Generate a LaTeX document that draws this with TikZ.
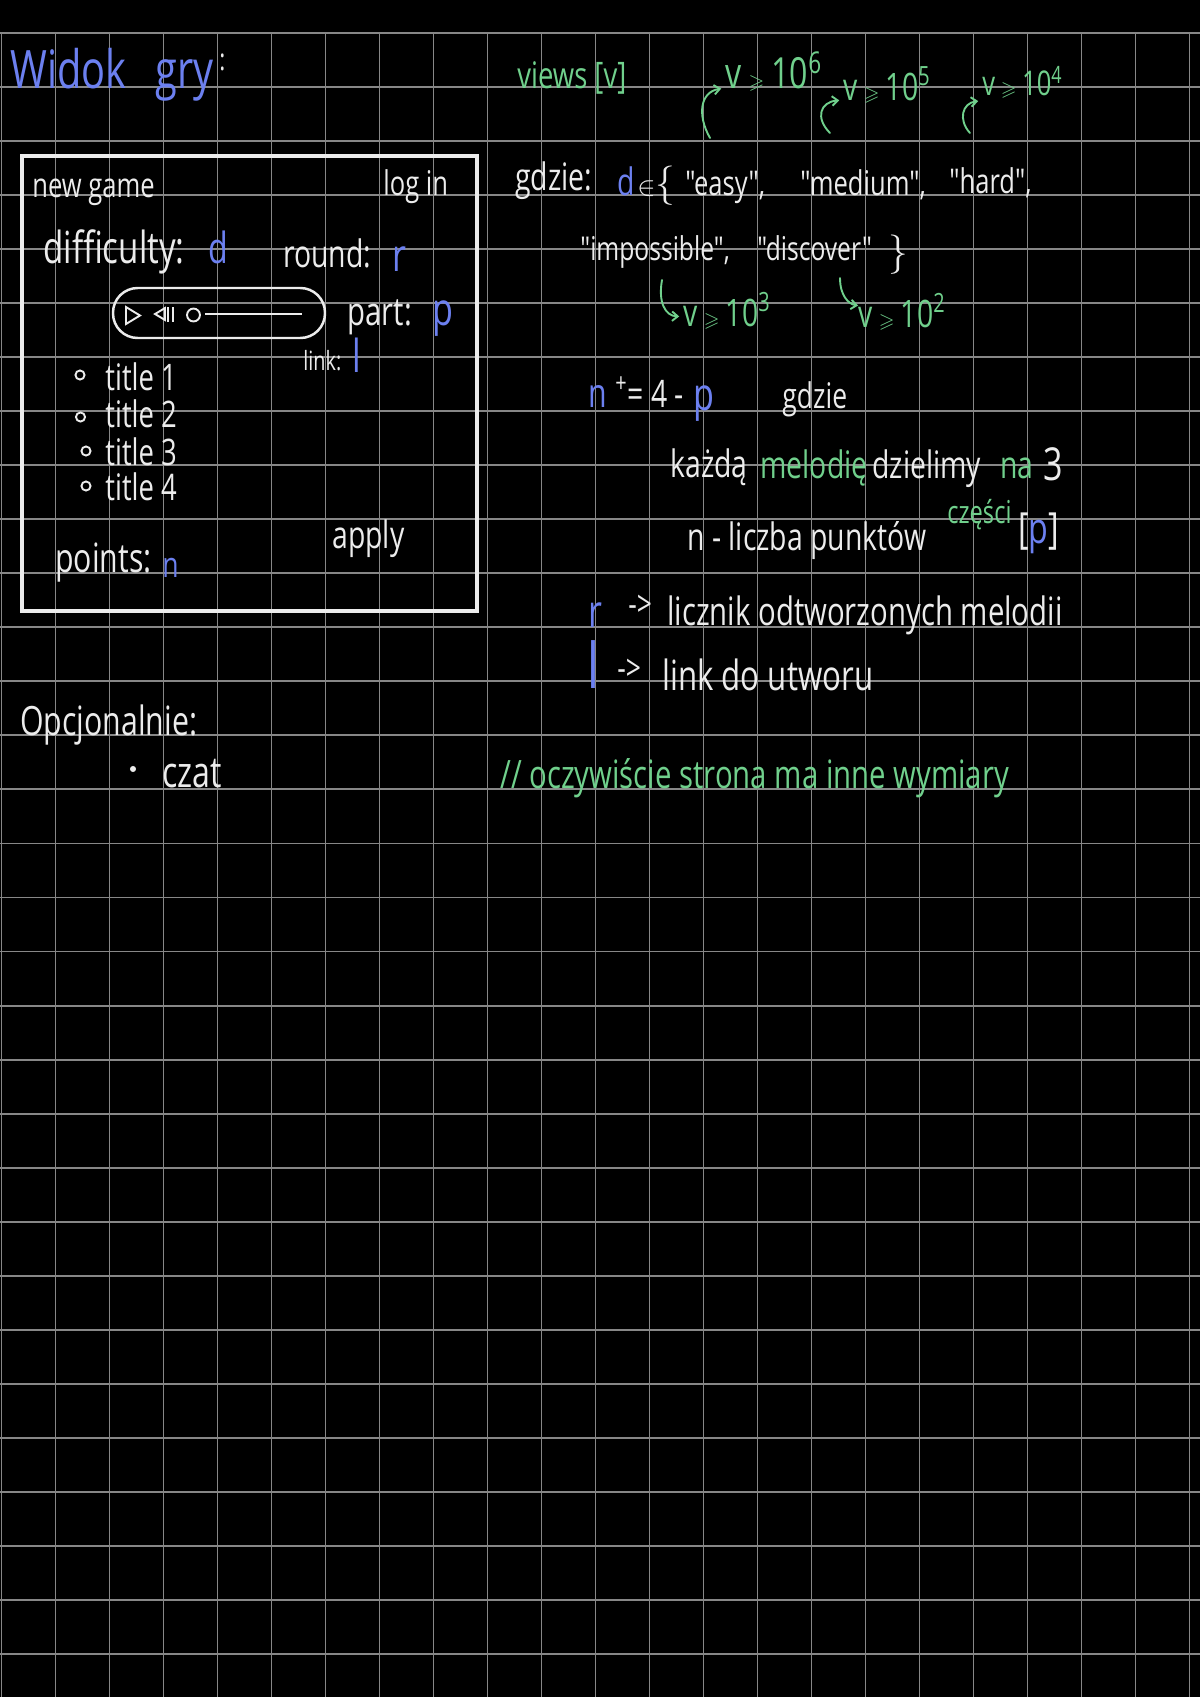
\documentclass[tikz,border=0pt]{standalone}
\usepackage{amssymb}
\usepackage{fontspec}
\setmainfont{Open Sans}[FakeStretch=0.75, Ligatures=TeXOff]
\usepackage{xcolor}
\usetikzlibrary{arrows.meta}
\definecolor{chalk}{RGB}{236,236,236}
\definecolor{penblue}{RGB}{108,128,240}
\definecolor{pengreen}{RGB}{112,208,140}
\definecolor{gridgray}{RGB}{135,135,135}
\newcommand{\sz}[1]{\fontsize{\fpeval{1.33*#1}}{\fpeval{1.33*#1}}\selectfont}
\newcommand{\vge}{{\sz{8}$\geqslant$}}

\begin{document}
\begin{tikzpicture}[x=0.0185185cm, y=-0.0185185cm,
  hw/.style={anchor=base west, inner sep=0pt, text=chalk, font=\sz{#1}},
  hw/.default=15,
  hb/.style={hw=#1, text=penblue}, hb/.default=16,
  hg/.style={hw=#1, text=pengreen}, hg/.default=15,
  garr/.style={pengreen, line width=1pt, line cap=round, -{Straight Barb[length=3pt,width=5pt]}, shorten >=2pt}]
\fill[black] (0,0) rectangle (1200,1697);
\useasboundingbox (0,0) rectangle (1200,1697);
\foreach \i in {0,...,22}
  \draw[gridgray, line width=1pt] ({1.5+54*\i},33) -- ({1.5+54*\i},1697);
\foreach \j in {0,...,30}
  \draw[gridgray, line width=1pt] (0,{33+54.03*\j}) -- (1200,{33+54.03*\j});

\node[hb=21] (widok) at (10,88) {Widok};
\node[hb=21] (gry) at (155,88) {gry};
\node[hw=12] (gryc) at (219,70) {:};

\draw[chalk, line width=1.6pt] (22,156) rectangle (477,611);
\node[hw=13.5] (newgame) at (32,197) {new game};
\node[hw=13.5] (login) at (383,195) {log in};
\node[hw=17.5] (diff) at (43,263) {difficulty:};
\node[hb=17] (dval) at (208,263) {d};
\node[hw=15] (round) at (283,267) {round:};
\node[hb=18] (rval) at (392,271) {r};

\draw[chalk, line width=1.3pt, rounded corners=13pt] (113,288) rectangle (325,338);
\draw[chalk, line width=1pt] (126,307) -- (140,315.5) -- (126,324) -- cycle;
\draw[chalk, line width=1pt] (165,308) -- (155,314) -- (165,320) -- cycle;
\draw[chalk, line width=1pt] (168,307) -- (168,322) (173,307) -- (173,322);
\draw[chalk, line width=1pt] (193.5,315) circle (3.4pt);
\draw[chalk, line width=1pt] (205,314) -- (302,314);

\node[hw=15.5] (part) at (347,325) {part:};
\node[hb=18] (pval) at (432,325) {p};
\node[hw=10.5] (link) at (303,370) {link:};
\node[hb=18] (lval) at (352,372) {l};

\foreach \ti/\bx/\by/\ty in {1/80/375/390, 2/80.5/417/427, 3/86/451/465, 4/86/486/500} {
  \draw[chalk, line width=1pt] (\bx,\by) circle (2.4pt);
  \node[hw=14.5] (title\ti) at (105,\ty) {title \ti};
}
\node[hw=16] (points) at (55,572) {points:};
\node[hb=14] (nval) at (162,577) {n};
\node[hw=15] (apply) at (332,548) {apply};

\node[hw=16] (opc) at (20,735) {Opcjonalnie:};
\fill[chalk] (133,769) circle (1.6pt);
\node[hw=17] (czat) at (162,787) {czat};

\node[hg=14.5] (views) at (517,88) {views [v]};
\node[hg=17] (v6) at (725,88) {v\,\vge\,10\textsuperscript{6}};
\node[hg=15] (v5) at (843,100) {v\,\vge\,10\textsuperscript{5}};
\node[hg=13.5] (v4) at (982,95) {v\,\vge\,10\textsuperscript{4}};
\coordinate (s6) at (710,138);
\coordinate (s5) at (830,133);
\coordinate (s4) at (970,133);
\draw[garr] (s6) .. controls (697,115) and (700,92) .. (v6.base west);
\draw[garr] (s5) .. controls (815,118) and (820,102) .. (v5.base west);
\draw[garr] (s4) .. controls (958,120) and (962,103) .. ([yshift=-3pt]v4.base west);

\node[hw=15] (gdzie1) at (515,190) {gdzie:};
\node[hb=15] (dset) at (617,195) {d};
\node[hw=17] (inset) at (637,195) {{\sz{10}${\in}$}$\{$};
\node[hw=13.5] (easy) at (685,195) {"easy",};
\node[hw=13.5] (medium) at (800,195) {"medium",};
\node[hw=13.5] (hard) at (949,193) {"hard",};
\node[hw=13] (imposs) at (580,260) {"impossible",};
\node[hw=13] (discover) at (757,260) {"discover"};
\node[hw=17] (closeset) at (888,264) {$\}$};

\node[hg=15] (v3) at (683,326) {v\,\vge\,10\textsuperscript{3}};
\node[hg=15] (v2) at (858,327) {v\,\vge\,10\textsuperscript{2}};
\coordinate (s3) at (662,280);
\coordinate (s2) at (840,278);
\draw[garr] (s3) .. controls (658,302) and (665,316) .. ([yshift=5pt]v3.base west);
\draw[garr] (s2) .. controls (840,295) and (848,304) .. ([shift={(2pt,11pt)}]v2.base west);

\node[hb=16] (npts) at (588,407) {n};
\node[hw=15] (pluseq) at (615,407) {\textsuperscript{+}= 4 -};
\node[hb=18] (pp) at (693,410) {p};
\node[hw=14] (gdzie2) at (782,408) {gdzie};

\node[hw=15] (kazda) at (670,477) {każdą};
\node[hg=15] (melodie) at (760,478) {melodię};
\node[hw=15] (dzielimy) at (872,478) {dzielimy};
\node[hg=15] (na) at (1000,478) {na};
\node[hw=18] (three) at (1043,480) {3};
\node[hw=15] (liczba) at (687,550) {n - liczba punktów};
\node[hg=12.5] (czesci) at (947,523) {części};
\node[hw=17] (pbr) at (1018,543) {[\textcolor{penblue}{p}]};

\node[hb=18] (rcnt) at (588,627) {r};
\node[hw=14] (arr1) at (628,616) {->};
\node[hw=15.5] (licznik) at (667,625) {licznik odtworzonych melodii};
\node[hb=25] (lcnt) at (587,688) {l};
\node[hw=14] (arr2) at (617,680) {->};
\node[hw=16.5] (linkdo) at (662,690) {link do utworu};

\node[hg=15.5] (note) at (500,788) {// oczywiście strona ma inne wymiary};
\end{tikzpicture}
\end{document}
